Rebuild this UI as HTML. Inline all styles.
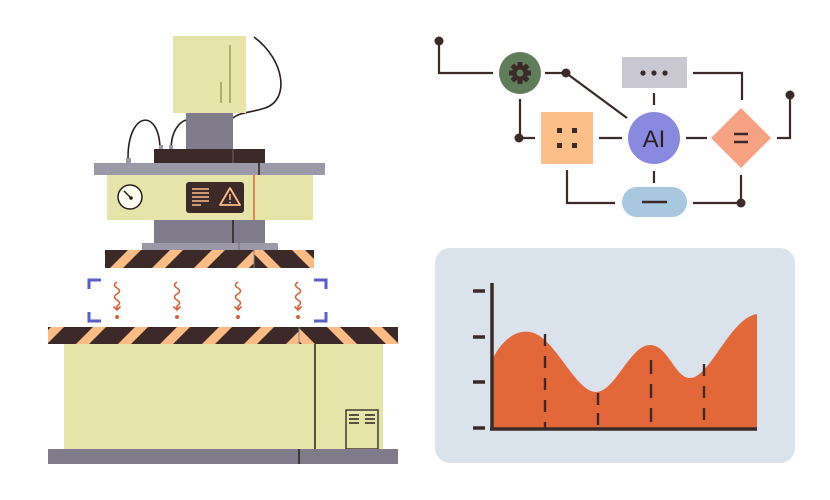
<!DOCTYPE html>
<html><head><meta charset="utf-8"><style>html,body{margin:0;padding:0;background:#fff}svg{display:block}</style></head>
<body>
<svg width="830" height="500" viewBox="0 0 830 500" xmlns="http://www.w3.org/2000/svg">
<defs>
<pattern id="sL" width="42" height="42" patternUnits="userSpaceOnUse" patternTransform="skewX(-45)">
<rect width="42" height="42" fill="#3b2a27"/><rect x="0" width="13" height="42" fill="#fbbd85"/></pattern>
<pattern id="sR" width="42" height="42" patternUnits="userSpaceOnUse" patternTransform="skewX(45)">
<rect width="42" height="42" fill="#3b2a27"/><rect x="0" width="13" height="42" fill="#fbbd85"/></pattern>
</defs>
<!-- press top -->
<path d="M254 37 C285 60 290 100 265 108 C250 113 240 112 233 118" fill="none" stroke="#2a1f1e" stroke-width="1.6"/>
<rect x="173" y="36" width="73" height="77" fill="#e6e4a9"/>
<line x1="230" y1="45" x2="230" y2="103" stroke="#8a8a45" stroke-width="1.2"/>
<line x1="221" y1="82" x2="221" y2="103" stroke="#8a8a45" stroke-width="1.2"/>
<rect x="186" y="113" width="47" height="37" fill="#807b8b"/>
<path d="M128 158 C128 110 160 108 160 150" fill="none" stroke="#2a1f1e" stroke-width="1.6"/>
<path d="M171 150 C171 130 180 122 186 120" fill="none" stroke="#2a1f1e" stroke-width="1.6"/>
<rect x="126" y="158" width="5" height="5" fill="#9b98a8"/>
<rect x="159" y="145" width="4" height="5" fill="#9b98a8"/><rect x="169" y="145" width="4" height="5" fill="#9b98a8"/>
<rect x="154" y="149" width="111" height="14" fill="#3b2a27"/>
<line x1="233" y1="149" x2="233" y2="163" stroke="#6d6575" stroke-width="1"/>
<rect x="94" y="163" width="231" height="12" fill="#9b98a8"/>
<line x1="259" y1="163" x2="259" y2="175" stroke="#2a1f1e" stroke-width="1.5"/>
<rect x="107" y="175" width="206" height="45" fill="#e6e4a9"/>
<line x1="254" y1="175" x2="254" y2="220" stroke="#d86a3a" stroke-width="1.5"/>
<circle cx="130" cy="197" r="12" fill="#fffef0" stroke="#2a1f1e" stroke-width="1.5"/>
<line x1="124" y1="191" x2="131" y2="198" stroke="#2a1f1e" stroke-width="1.5"/><circle cx="131" cy="198" r="1.8" fill="#2a1f1e"/>
<rect x="186" y="182" width="58" height="31" rx="3" fill="#3b2a27"/>
<g stroke="#fbbd85" stroke-width="1.5"><line x1="192" y1="189" x2="209" y2="189"/><line x1="192" y1="193" x2="209" y2="193"/><line x1="192" y1="197" x2="209" y2="197"/><line x1="192" y1="201" x2="209" y2="201"/><line x1="192" y1="205" x2="201" y2="205"/></g>
<path d="M230 188 L240 205 L220 205 Z" fill="none" stroke="#fbbd85" stroke-width="1.8" stroke-linejoin="round"/>
<line x1="230" y1="194" x2="230" y2="200" stroke="#fbbd85" stroke-width="1.5"/><circle cx="230" cy="202.5" r="0.9" fill="#fbbd85"/>
<rect x="154" y="220" width="111" height="23" fill="#807b8b"/>
<line x1="233" y1="220" x2="233" y2="243" stroke="#2a1f1e" stroke-width="1.5"/>
<rect x="142" y="243" width="136" height="7" fill="#9b98a8"/>
<line x1="239" y1="243" x2="239" y2="250" stroke="#6d6575"/>
<rect x="105" y="250" width="149" height="18" fill="url(#sL)"/>
<rect x="254" y="250" width="60" height="18" fill="url(#sR)"/>
<line x1="254" y1="250" x2="254" y2="268" stroke="#888" stroke-width="1"/>
<!-- brackets -->
<g fill="none" stroke="#5a5fc8" stroke-width="3"><path d="M101 280 H89 V289"/><path d="M89 312 V321 H101"/><path d="M314 280 H326 V289"/><path d="M326 312 V321 H314"/></g>
<g fill="none" stroke="#d8603a" stroke-width="1.6">
<path id="sq" d="M117 282 q-5 3 0 6 q5 3 0 6 q-5 3 0 6 q5 3 0 6 v4 m-3.5 -3.5 l3.5 3.5 l3.5 -3.5"/>
<use href="#sq" x="60"/><use href="#sq" x="121"/><use href="#sq" x="181"/></g>
<g fill="#d8603a"><circle cx="117" cy="317" r="2"/><circle cx="177" cy="317" r="2"/><circle cx="238" cy="317" r="2"/><circle cx="298" cy="317" r="2"/></g>
<rect x="48" y="327" width="251" height="17" fill="url(#sL)"/>
<rect x="299" y="327" width="99" height="17" fill="url(#sR)"/>
<line x1="299" y1="327" x2="299" y2="344" stroke="#888"/>
<rect x="64" y="344" width="319" height="105" fill="#e6e4a9"/>
<line x1="315" y1="344" x2="315" y2="449" stroke="#2a1f1e" stroke-width="1.5"/>
<rect x="346" y="410" width="32" height="39" fill="none" stroke="#2a1f1e" stroke-width="1.3"/>
<g stroke="#2a1f1e" stroke-width="1.5"><line x1="349" y1="415" x2="359" y2="415"/><line x1="349" y1="419" x2="359" y2="419"/><line x1="349" y1="423" x2="359" y2="423"/><line x1="365" y1="415" x2="375" y2="415"/><line x1="365" y1="419" x2="375" y2="419"/><line x1="365" y1="423" x2="375" y2="423"/></g>
<rect x="48" y="449" width="350" height="15" fill="#807b8b"/>
<line x1="299" y1="449" x2="299" y2="464" stroke="#2a1f1e" stroke-width="1.5"/>
<!-- flowchart -->
<g fill="none" stroke="#3b2a27" stroke-width="2.2">
<path d="M439 41 V73 H493"/><path d="M545 73 H566 L627 118"/><path d="M693 73 H742 V100"/>
<path d="M520 99 V138 H535"/><path d="M599 138 H622"/><path d="M654 93 V105"/><path d="M654 171 V183"/>
<path d="M686 138 H707"/><path d="M777 138 H790 V95"/><path d="M567 170 V203 H615"/><path d="M693 203 H741 V175"/>
</g>
<g fill="#3b2a27"><circle cx="439" cy="41" r="4.5"/><circle cx="566" cy="73" r="4.5"/><circle cx="519" cy="138" r="4.5"/><circle cx="790" cy="95" r="4.5"/><circle cx="741" cy="203" r="4.5"/></g>
<circle cx="520" cy="73" r="21" fill="#5f7d58"/>
<g transform="translate(520 73)" fill="#3b2a27">
<g id="t"><rect x="-2.5" y="-11" width="5" height="22"/></g><use href="#t" transform="rotate(45)"/><use href="#t" transform="rotate(90)"/><use href="#t" transform="rotate(135)"/>
<circle r="8"/><circle r="3.5" fill="#5f7d58"/></g>
<rect x="622" y="57" width="65" height="31" fill="#c9c8d2"/>
<g fill="#3b2a27"><circle cx="643" cy="73" r="2.6"/><circle cx="654" cy="73" r="2.6"/><circle cx="665" cy="73" r="2.6"/></g>
<rect x="541" y="112" width="52" height="52" fill="#fdbf88"/>
<g fill="#3b2a27"><rect x="557" y="128" width="5" height="5"/><rect x="572" y="128" width="5" height="5"/><rect x="557" y="143" width="5" height="5"/><rect x="572" y="143" width="5" height="5"/></g>
<circle cx="654" cy="138" r="26" fill="#8a89e0"/>
<text x="654" y="147" text-anchor="middle" font-family="Liberation Sans, sans-serif" font-size="24" fill="#2a1f1e">AI</text>
<path d="M741 108 L771 138 L741 168 L711 138 Z" fill="#f6a283"/>
<g stroke="#3b2a27" stroke-width="2.5"><line x1="734" y1="134" x2="748" y2="134"/><line x1="734" y1="142" x2="748" y2="142"/></g>
<rect x="622" y="187" width="65" height="30" rx="15" fill="#a8c8e0"/>
<line x1="642" y1="202" x2="667" y2="202" stroke="#3b2a27" stroke-width="2.5"/>
<!-- chart -->
<rect x="435" y="248" width="360" height="215" rx="15" fill="#dae3ec"/>
<path d="M493 358 C505 335 520 330 530 332 C555 336 575 392 596 392 C615 392 630 345 650 345 C668 345 675 378 690 378 C710 378 730 318 757 314 V429 H493 Z" fill="#e2683a"/>
<g stroke="#3b2a27" stroke-width="2.4" stroke-dasharray="12 10"><line x1="545" y1="334" x2="545" y2="429"/><line x1="598" y1="393" x2="598" y2="429" stroke-dasharray="12 8"/><line x1="651" y1="360" x2="651" y2="429" stroke-dasharray="14 10"/><line x1="704" y1="364" x2="704" y2="429" stroke-dasharray="12 10"/></g>
<g stroke="#3b2a27" stroke-width="3.5"><line x1="492" y1="283" x2="492" y2="430"/><line x1="490" y1="429" x2="757" y2="429"/>
<line x1="473" y1="291" x2="485" y2="291"/><line x1="473" y1="337" x2="485" y2="337"/><line x1="473" y1="382" x2="485" y2="382"/><line x1="473" y1="428" x2="485" y2="428"/></g>
</svg>
</body></html>
